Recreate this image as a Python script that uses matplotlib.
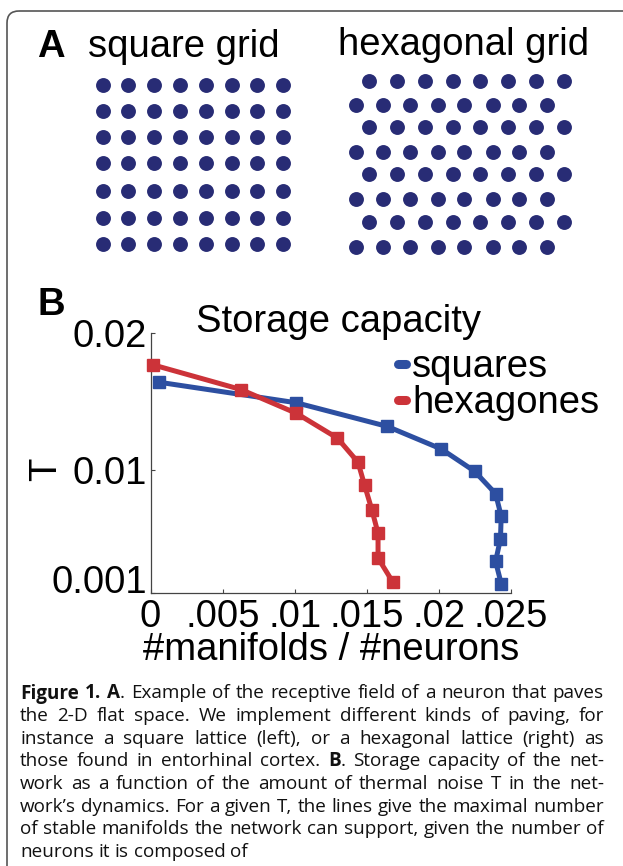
import numpy as np
import matplotlib.pyplot as plt
from matplotlib.lines import Line2D
from matplotlib.patches import FancyBboxPatch

plt.rcParams['font.family'] = ['Liberation Sans', 'DejaVu Sans']

# 数据: 存储容量 (#manifolds/#neurons) vs 温度 T
sq_x = [0.02432, 0.02393, 0.02427, 0.02432, 0.02393, 0.02247, 0.02017, 0.01643, 0.01012, 0.00061]
sq_T = [0.00169, 0.00331, 0.00495, 0.00662, 0.00826, 0.00990, 0.01152, 0.01317, 0.01490, 0.01640]
hex_x = [0.01681, 0.01578, 0.01578, 0.01536, 0.01485, 0.01439, 0.01296, 0.01012, 0.00627, 0.00015]
hex_T = [0.00179, 0.00355, 0.00536, 0.00705, 0.00886, 0.01056, 0.01232, 0.01413, 0.01587, 0.01768]
series_names = ['squares', 'hexagones']

x_ticks = [0, 0.005, 0.01, 0.015, 0.02, 0.025]
x_ticklabels = ['0', '.005', '.01', '.015', '.02', '.025']
y_ticks = [0.001, 0.01, 0.02]
y_ticklabels = ['0.001', '0.01', '0.02']

# 图A: 网格点 (像素坐标)
sq_cols = [103, 128, 154, 180, 206, 232, 257, 283]
sq_rows = [85, 111, 137, 163, 191, 218, 244]
hex_rows = [81, 105, 127, 152, 174, 199, 222, 247]
hex_cols_long = [369, 397, 425, 453, 480, 508, 536, 564]
hex_cols_short = [356, 383, 410, 438, 464, 493, 519, 547]

cap_lines = [
    "*Figure 1. A*. Example of the receptive field of a neuron that paves",
    "the 2-D flat space. We implement different kinds of paving, for",
    "instance a square lattice (left), or a hexagonal lattice (right) as",
    "those found in entorhinal cortex. *B*. Storage capacity of the net-",
    "work as a function of the amount of thermal noise T in the net-",
    "work\u2019s dynamics. For a given T, the lines give the maximal number",
    "of stable manifolds the network can support, given the number of",
    "neurons it is composed of",
]

BLUE = '#2d4fa1'
RED = '#cc3339'
DOT = '#282c75'
BIG = 27.5

W, H = 623, 866
fig = plt.figure(figsize=(W / 100, H / 100), dpi=100)

# 背景层, 像素坐标
ax0 = fig.add_axes([0, 0, 1, 1], zorder=0)
ax0.set_xlim(0, W)
ax0.set_ylim(H, 0)
ax0.axis('off')

ax0.add_patch(FancyBboxPatch((7, 11), 700, 950, boxstyle='round,pad=0,rounding_size=12',
                             ec='#555555', fc='none', lw=1.2))

# 方形网格
gx, gy = np.meshgrid(sq_cols, sq_rows)
ax0.scatter(gx.ravel(), gy.ravel(), s=115, c=DOT, linewidths=0)
# 六边形网格
for i, y in enumerate(hex_rows):
    cols = hex_cols_long if i % 2 == 0 else hex_cols_short
    ax0.scatter(cols, [y] * len(cols), s=115, c=DOT, linewidths=0)

ax0.text(37, 57, 'A', fontsize=BIG, fontweight='bold', va='baseline')
ax0.text(88, 57, 'square grid', fontsize=BIG, va='baseline')
ax0.text(338, 55, 'hexagonal grid', fontsize=BIG, va='baseline')
ax0.text(38, 315, 'B', fontsize=BIG, fontweight='bold', va='baseline')
ax0.text(46, 469, 'T', fontsize=BIG, rotation=90, ha='center', va='center')
ax0.text(339, 332, 'Storage capacity', fontsize=BIG, ha='center', va='baseline')

# 图B
ax = fig.add_axes([150.5 / W, (H - 593) / H, 360.5 / W, 260 / H], zorder=1)
ax.set_facecolor('none')
ax.plot(sq_x, sq_T, color=BLUE, lw=3.6, marker='s', ms=8, clip_on=False, zorder=3)
ax.plot(hex_x, hex_T, color=RED, lw=3.6, marker='s', ms=8, clip_on=False, zorder=4)
ax.set_xlim(0, 0.025)
ax.set_ylim(0.001, 0.02)
ax.set_xticks(x_ticks)
ax.set_xticklabels(x_ticklabels)
ax.set_yticks(y_ticks)
ax.set_yticklabels(y_ticklabels)
ax.tick_params(direction='in', length=3, width=0.8, color='#444444', labelsize=BIG)
ax.tick_params(axis='x', pad=4.5)
ax.tick_params(axis='y', pad=2.5)
ax.yaxis.get_major_ticks()[0].label1.set_va('baseline')
for s in ['top', 'right']:
    ax.spines[s].set_visible(False)
for s in ['left', 'bottom']:
    ax.spines[s].set_color('#444444')
    ax.spines[s].set_linewidth(0.9)
ax.set_xlabel('#manifolds / #neurons', fontsize=BIG, labelpad=-2)

handles = [Line2D([], [], color=c, lw=6.5, solid_capstyle='round') for c in (BLUE, RED)]
ax.legend(handles, series_names, loc='upper left', bbox_to_anchor=(398, 349),
          bbox_transform=ax0.transData, frameon=False, fontsize=BIG,
          handlelength=0.22, handletextpad=0.15, borderpad=0, borderaxespad=0,
          labelspacing=0.0)

# 图注, 两端对齐
CAP_FONT = 'Open Sans'
CAP_SIZE = 13.6
L, R = 20, 604
renderer = fig.canvas.get_renderer()


def parse_words(line):
    words, cur, seg, bold = [], [], '', False
    for ch in line + ' ':
        if ch in '* ':
            if seg:
                cur.append((seg, bold))
                seg = ''
            if ch == '*':
                bold = not bold
            elif cur:
                words.append(cur)
                cur = []
        else:
            seg += ch
    return words


sp = ax0.text(0, 0, 'a a', fontsize=CAP_SIZE, family=CAP_FONT)
sp2 = ax0.text(0, 0, 'aa', fontsize=CAP_SIZE, family=CAP_FONT)
space_w = sp.get_window_extent(renderer).width - sp2.get_window_extent(renderer).width
sp.remove()
sp2.remove()

for i, line in enumerate(cap_lines):
    y = 698.5 + 22.6 * i
    words = parse_words(line)
    objs = []
    total = 0
    for wd in words:
        parts = []
        ww = 0
        for seg, bold in wd:
            t = ax0.text(0, y, seg, fontsize=CAP_SIZE, family=CAP_FONT,
                         fontweight='bold' if bold else 'normal', va='baseline', color='#111111')
            w = t.get_window_extent(renderer).width
            parts.append((t, w))
            ww += w
        objs.append(parts)
        total += ww
    if i < len(cap_lines) - 1:
        gap = max((R - L - total) / (len(words) - 1), 0.5 * space_w)
    else:
        gap = space_w
    x = L
    for parts in objs:
        for t, w in parts:
            t.set_x(x)
            x += w
        x += gap

fig.savefig('out.png', dpi=100)
